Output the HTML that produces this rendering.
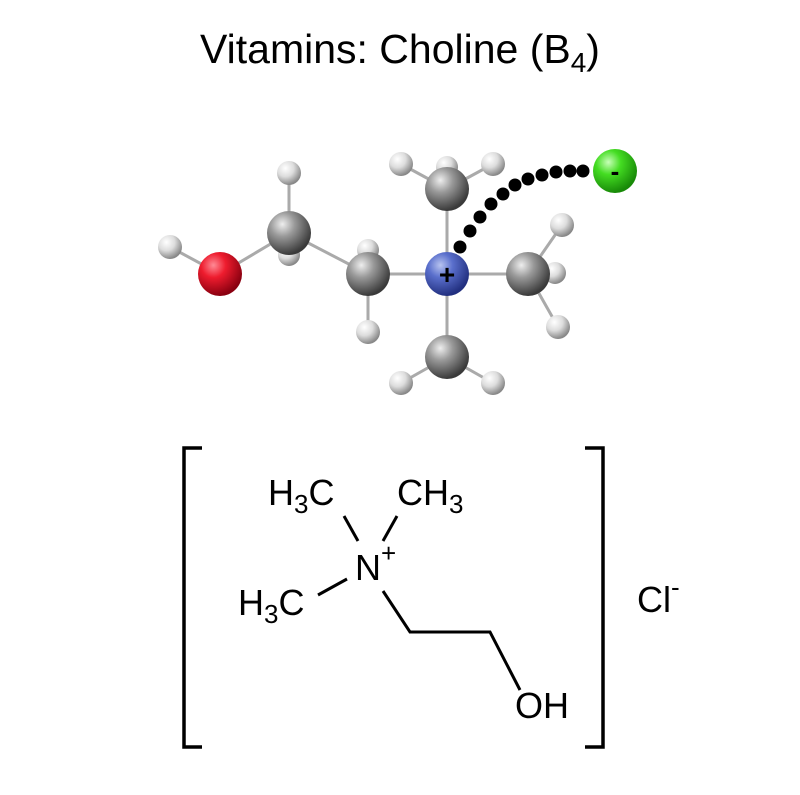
<!DOCTYPE html>
<html><head><meta charset="utf-8"><style>
html,body{margin:0;padding:0;background:#fff;}
svg{display:block;}
text{font-family:"Liberation Sans",sans-serif;fill:#000;}
</style></head><body>
<svg width="800" height="795" viewBox="0 0 800 795">
<defs>
<radialGradient id="gC" cx="35%" cy="30%" r="70%"><stop offset="0" stop-color="#eee"/><stop offset="0.4" stop-color="#999"/><stop offset="1" stop-color="#3a3a3a"/></radialGradient>
<radialGradient id="gH" cx="35%" cy="30%" r="70%"><stop offset="0" stop-color="#fff"/><stop offset="0.5" stop-color="#ddd"/><stop offset="1" stop-color="#888"/></radialGradient>
<radialGradient id="gO" cx="35%" cy="30%" r="70%"><stop offset="0" stop-color="#ff8a95"/><stop offset="0.4" stop-color="#ee1c2e"/><stop offset="1" stop-color="#8a0010"/></radialGradient>
<radialGradient id="gN" cx="35%" cy="30%" r="70%"><stop offset="0" stop-color="#b8c4f0"/><stop offset="0.4" stop-color="#5a6fcc"/><stop offset="1" stop-color="#223080"/></radialGradient>
<radialGradient id="gCl" cx="35%" cy="30%" r="70%"><stop offset="0" stop-color="#c8ffb8"/><stop offset="0.4" stop-color="#44dd22"/><stop offset="1" stop-color="#188a08"/></radialGradient>
</defs>
<text x="400" y="63" font-size="41" text-anchor="middle">Vitamins: Choline (B<tspan font-size="28" dy="9">4</tspan><tspan dy="-9">)</tspan></text>

<g stroke="#aaa" stroke-width="3">
<line x1="170" y1="247" x2="220" y2="274"/><line x1="220" y1="274" x2="289" y2="233"/>
<line x1="289" y1="173" x2="289" y2="255"/><line x1="289" y1="233" x2="368" y2="274"/>
<line x1="368" y1="250" x2="368" y2="332"/><line x1="368" y1="274" x2="528" y2="274"/>
<line x1="447" y1="189" x2="447" y2="357"/>
<line x1="401" y1="164" x2="447" y2="189"/><line x1="493" y1="164" x2="447" y2="189"/>
<line x1="562" y1="225" x2="528" y2="274"/><line x1="558" y1="327" x2="528" y2="274"/>
<line x1="401" y1="383" x2="447" y2="357"/><line x1="493" y1="383" x2="447" y2="357"/>
</g>
<g fill="url(#gH)">
<circle cx="447" cy="167" r="11"/><circle cx="289" cy="255" r="11"/><circle cx="368" cy="250" r="11"/><circle cx="555" cy="273" r="11"/>
</g>
<circle cx="170" cy="247" r="12" fill="url(#gH)"/>
<circle cx="289" cy="173" r="12" fill="url(#gH)"/>
<circle cx="220" cy="274" r="22" fill="url(#gO)"/>
<circle cx="289" cy="233" r="22" fill="url(#gC)"/>
<circle cx="368" cy="274" r="22" fill="url(#gC)"/>
<circle cx="368" cy="332" r="12" fill="url(#gH)"/>
<circle cx="401" cy="164" r="12" fill="url(#gH)"/><circle cx="493" cy="164" r="12" fill="url(#gH)"/>
<circle cx="447" cy="189" r="22" fill="url(#gC)"/>
<circle cx="562" cy="225" r="12" fill="url(#gH)"/>
<circle cx="528" cy="274" r="22" fill="url(#gC)"/>
<circle cx="558" cy="327" r="12" fill="url(#gH)"/>
<circle cx="447" cy="357" r="22" fill="url(#gC)"/>
<circle cx="401" cy="383" r="12" fill="url(#gH)"/><circle cx="493" cy="383" r="12" fill="url(#gH)"/>
<circle cx="447" cy="274" r="22" fill="url(#gN)"/>
<text x="447" y="284" font-size="28" font-weight="bold" text-anchor="middle">+</text>
<g fill="#000">
<circle cx="460" cy="247" r="6.5"/><circle cx="470" cy="231" r="6.5"/><circle cx="480" cy="217" r="6.5"/><circle cx="491" cy="204" r="6.5"/>
<circle cx="503" cy="194" r="6.5"/><circle cx="515" cy="185" r="6.5"/><circle cx="528" cy="179" r="6.5"/><circle cx="542" cy="175" r="6.5"/>
<circle cx="556" cy="172" r="6.5"/><circle cx="570" cy="171" r="6.5"/><circle cx="583" cy="171" r="6.5"/>
</g>
<circle cx="615" cy="171" r="22" fill="url(#gCl)"/>
<text x="615" y="180" font-size="26" font-weight="bold" text-anchor="middle">-</text>

<g fill="none" stroke="#000" stroke-width="3.5">
<polyline points="202,448 184,448 184,747 202,747"/>
<polyline points="585,448 603,448 603,747 585,747"/>
</g>
<g stroke="#000" stroke-width="3">
<line x1="344" y1="516" x2="358" y2="541"/>
<line x1="397" y1="516" x2="383" y2="541"/>
<line x1="318" y1="595" x2="347" y2="579"/>
<polyline fill="none" points="383,591 410,632 490,632 520,690"/>
</g>
<g font-size="36">
<text x="268" y="505">H<tspan font-size="26" dy="8">3</tspan><tspan dy="-8">C</tspan></text>
<text x="397" y="505">CH<tspan font-size="26" dy="8">3</tspan></text>
<text x="355" y="580">N<tspan font-size="26" dy="-18">+</tspan></text>
<text x="238" y="615">H<tspan font-size="26" dy="8">3</tspan><tspan dy="-8">C</tspan></text>
<text x="515" y="718">OH</text>
<text x="637" y="612">Cl<tspan font-size="26" dy="-16">-</tspan></text>
</g>
</svg>
</body></html>
